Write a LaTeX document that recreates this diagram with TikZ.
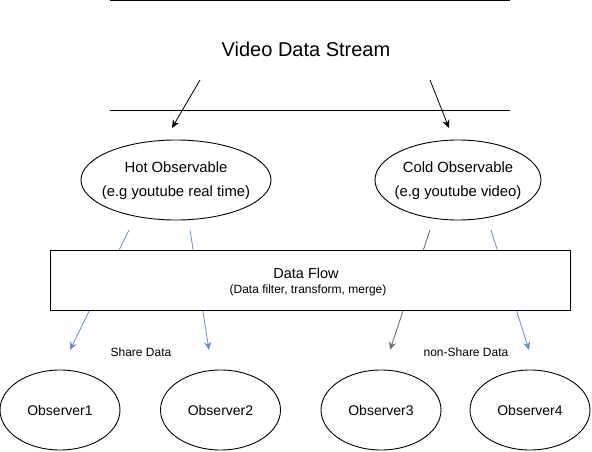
\documentclass[tikz,border=0pt]{standalone}
\usepackage{fontspec}
\setmainfont{Liberation Sans}
\usetikzlibrary{shapes.geometric,arrows.meta}
\definecolor{flowblue}{HTML}{6C8EBF}
\definecolor{flowgrey}{HTML}{707070}
\begin{document}
\begin{tikzpicture}[x=1pt,y=-1pt,line width=0.9pt,
  oval/.style={ellipse,draw,inner sep=0pt,outer sep=0pt},
  ovaltext/.style={align=center,inner sep=0pt,font=\fontsize{14.8}{24}\selectfont},
  obs/.style={oval,minimum width=120pt,minimum height=80pt,font=\fontsize{14}{16}\selectfont},
  arr/.style={-{Stealth[length=8pt,width=7pt,inset=2.5pt]},line width=0.8pt},
  lbl/.style={font=\fontsize{12}{14}\selectfont,inner sep=0pt}]
\useasboundingbox (0,0) rectangle (592,452);
% stream band
\coordinate (tl) at (110,0.6);
\coordinate (tr) at (510,0.6);
\coordinate (bl) at (110,110);
\coordinate (br) at (510,110);
\draw (tl) -- (tr);
\draw (bl) -- (br);
\node[font=\fontsize{20}{24}\selectfont,inner sep=0pt] (title) at (306,49) {Video Data Stream};
% observables
\node[oval,minimum width=190pt,minimum height=80pt] (hot) at (176,180) {};
\node[ovaltext] (hottext) at (176,181) {Hot Observable\\(e.g youtube real time)};
\node[oval,minimum width=166pt,minimum height=80pt] (cold) at (458,180) {};
\node[ovaltext] (coldtext) at (458,181) {Cold Observable\\(e.g youtube video)};
\coordinate (s1) at (200,80);
\coordinate (s2) at (430,80);
\coordinate (t1) at (172,128);
\coordinate (t2) at (449,128);
\draw[arr] (s1) -- (t1);
\draw[arr] (s2) -- (t2);
% observers
\node[obs] (o1) at (60,410) {Observer1};
\node[obs] (o2) at (220.5,410) {Observer2};
\node[obs] (o3) at (381,410) {Observer3};
\node[obs] (o4) at (530,410) {Observer4};
% connectors
\coordinate (h1) at (129,230);
\coordinate (h2) at (190,230);
\coordinate (c1) at (430,230);
\coordinate (c2) at (491,230);
\coordinate (e1) at (70,350);
\coordinate (e2) at (209,350);
\coordinate (e3) at (390,350);
\coordinate (e4) at (529,350);
\draw[arr,flowblue] (h1) -- (e1);
\draw[arr,flowblue] (h2) -- (e2);
\draw[arr,flowgrey] (c1) -- (e3);
\draw[arr,flowblue] (c2) -- (e4);
% data flow box
\node[draw,fill=white,minimum width=520pt,minimum height=59.5pt,inner sep=0pt,outer sep=0pt] (flow) at (310,280.5) {};
\node[font=\fontsize{14.5}{16}\selectfont,inner sep=0pt] (flowt) at (306,273) {Data Flow};
\node[font=\fontsize{12}{14}\selectfont,inner sep=0pt] (flows) at (308,290) {(Data filter, transform, merge)};
\node[lbl] (share) at (141,352) {Share Data};
\node[lbl] (nshare) at (466,352) {non-Share Data};
\end{tikzpicture}
\end{document}
